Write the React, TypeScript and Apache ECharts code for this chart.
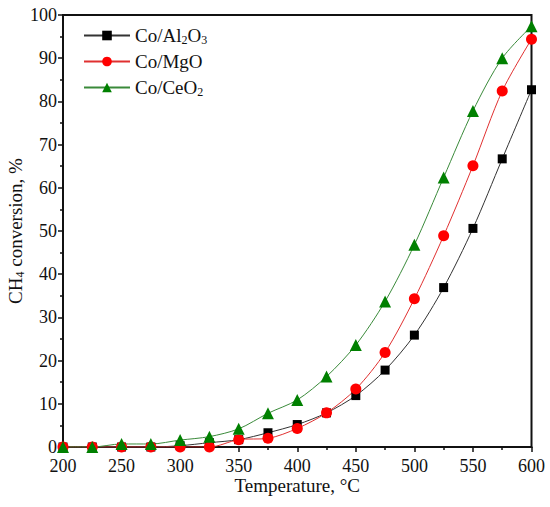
import React, { useEffect, useRef } from "react";
import * as echarts from "echarts";

const temperatures = [200, 225, 250, 275, 300, 325, 350, 375, 400, 425, 450, 475, 500, 525, 550, 575, 600];
const coAl2O3 = [0, 0, 0, 0, 0.3, 1.0, 1.7, 3.3, 5.2, 7.9, 11.9, 17.8, 25.9, 36.9, 50.6, 66.7, 82.7];
const coMgO = [0, 0, 0, 0, 0, 0, 1.7, 2.0, 4.3, 7.9, 13.4, 21.9, 34.3, 48.9, 65.1, 82.4, 94.4];
const coCeO2 = [0, 0, 0.7, 0.7, 1.6, 2.4, 4.2, 7.8, 10.9, 16.3, 23.6, 33.7, 46.8, 62.4, 77.8, 90.0, 97.4];
const seriesNames = ["Co/Al2O3", "Co/MgO", "Co/CeO2"];
const legendRich: Record<string, string> = {
  "Co/Al2O3": "{n|Co/Al}{s|2}{n|O}{s|3}",
  "Co/MgO": "{n|Co/MgO}",
  "Co/CeO2": "{n|Co/CeO}{s|2}",
};

const FONT = "Liberation Serif";

export default function App() {
  const ref = useRef<HTMLDivElement>(null);
  useEffect(() => {
    if (!ref.current) return;
    const chart = echarts.init(ref.current, undefined, { renderer: "svg" });
    const pair = (ys: number[]) => temperatures.map((t, i) => [t, ys[i]]);
    const rich = {
      n: { fontFamily: FONT, fontSize: 19, color: "#111", lineHeight: 22 },
      s: { fontFamily: FONT, fontSize: 12, color: "#111", lineHeight: 22, padding: [9, 0, 0, 0] },
    };
    chart.setOption({
      animation: false,
      grid: {
        left: 63,
        right: 18.5,
        top: 15,
        bottom: 60,
        show: true,
        borderColor: "#111",
        borderWidth: 2,
        containLabel: false,
        outerBoundsMode: "none",
      },
      legend: {
        left: 78,
        top: 20,
        orient: "vertical",
        itemWidth: 46,
        itemHeight: 12,
        itemGap: 6,
        data: seriesNames,
        formatter: (name: string) => legendRich[name] ?? name,
        textStyle: { fontFamily: FONT, fontSize: 19, color: "#111", rich },
      },
      xAxis: {
        type: "value",
        min: 200,
        max: 600,
        interval: 50,
        name: "Temperature, °C",
        nameLocation: "middle",
        nameGap: 29,
        nameMoveOverlap: false,
        nameTextStyle: { fontFamily: FONT, fontSize: 19, color: "#111" },
        axisLine: { show: true, onZero: false, lineStyle: { color: "#111", width: 2 } },
        axisTick: { show: true, inside: false, length: 5, lineStyle: { color: "#111", width: 1.5 } },
        minorTick: { show: true, splitNumber: 2, length: 3, lineStyle: { color: "#111", width: 1.5 } },
        splitLine: { show: false },
        axisLabel: { fontFamily: FONT, fontSize: 18, color: "#111", margin: 10 },
      },
      yAxis: {
        type: "value",
        min: 0,
        max: 100,
        interval: 10,
        name: "{n|CH}{s|4}{n| conversion, %}",
        nameLocation: "middle",
        nameRotate: 90,
        nameGap: 37,
        nameMoveOverlap: false,
        nameTextStyle: { fontFamily: FONT, fontSize: 19, color: "#111", rich },
        axisLine: { show: true, onZero: false, lineStyle: { color: "#111", width: 2 } },
        axisTick: { show: true, inside: false, length: 5, lineStyle: { color: "#111", width: 1.5 } },
        minorTick: { show: true, splitNumber: 2, length: 3, lineStyle: { color: "#111", width: 1.5 } },
        splitLine: { show: false },
        axisLabel: { fontFamily: FONT, fontSize: 18, color: "#111", margin: 6 },
      },
      series: [
        {
          name: seriesNames[0],
          type: "line",
          data: pair(coAl2O3),
          smooth: 0.3,
          symbol: "rect",
          symbolSize: 9,
          itemStyle: { color: "#000" },
          lineStyle: { color: "#333", width: 1 },
        },
        {
          name: seriesNames[1],
          type: "line",
          data: pair(coMgO),
          smooth: 0.3,
          symbol: "circle",
          symbolSize: 11,
          itemStyle: { color: "#ff0000" },
          lineStyle: { color: "#e03030", width: 1 },
        },
        {
          name: seriesNames[2],
          type: "line",
          data: pair(coCeO2),
          smooth: 0.3,
          symbol: "triangle",
          symbolSize: 12,
          itemStyle: { color: "#008000" },
          lineStyle: { color: "#3a8a3a", width: 1 },
        },
      ],
    });
    return () => chart.dispose();
  }, []);
  return (
    <div
      ref={ref}
      style={{ position: "absolute", left: 0, top: 0, width: 550, height: 507 }}
    />
  );
}
